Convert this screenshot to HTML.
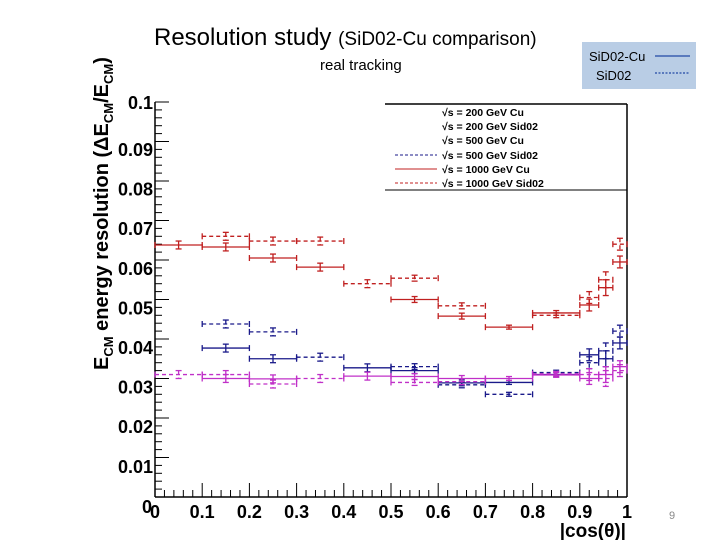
<!DOCTYPE html>
<html><head><meta charset="utf-8"><style>
body{margin:0;background:#fff;width:720px;height:540px;overflow:hidden;font-family:"Liberation Sans",sans-serif}
</style></head><body>
<svg width="720" height="540" xmlns="http://www.w3.org/2000/svg">
<text x="154" y="45" font-size="24" font-family="Liberation Sans, sans-serif">Resolution study <tspan font-size="19">(SiD02-Cu comparison)</tspan></text>
<text x="320" y="70" font-size="15">real tracking</text>
<g>
<rect x="582" y="42" width="114" height="47" fill="#b9cde5"/>
<text x="589" y="61" font-size="13">SiD02-Cu</text>
<line x1="655" y1="56" x2="690" y2="56" stroke="#3a5fb0" stroke-width="1.5"/>
<text x="596" y="80" font-size="13">SiD02</text>
<line x1="655" y1="73" x2="690" y2="73" stroke="#3a5fb0" stroke-width="1.5" stroke-dasharray="2,1.5"/>
</g>
<text x="669" y="519" font-size="11" fill="#888">9</text>
<g id="axes"></g>
<g id="marks"></g>
<g font-size="10.5" font-weight="bold" fill="#000">
<line x1="385" y1="104" x2="627" y2="104" stroke="#000" stroke-width="1.5"/>
<line x1="385" y1="190" x2="627" y2="190" stroke="#000" stroke-width="1"/>
<text x="442" y="116">√s = 200 GeV Cu</text>
<text x="442" y="130">√s = 200 GeV Sid02</text>
<text x="442" y="144">√s = 500 GeV Cu</text>
<line x1="395" y1="155" x2="437" y2="155" stroke="#1a1a8a" stroke-dasharray="3,2"/>
<text x="442" y="159">√s = 500 GeV Sid02</text>
<line x1="395" y1="169" x2="437" y2="169" stroke="#c02020"/>
<text x="442" y="173">√s = 1000 GeV Cu</text>
<line x1="395" y1="183" x2="437" y2="183" stroke="#c02020" stroke-dasharray="3,2"/>
<text x="442" y="187">√s = 1000 GeV Sid02</text>
</g>
</svg>
<script>
const binLo=[0,0.1,0.2,0.3,0.4,0.5,0.6,0.7,0.8,0.9,0.94,0.97];
const binHi=[0.1,0.2,0.3,0.4,0.5,0.6,0.7,0.8,0.9,0.94,0.97,1];
const cu1000=[0.0638,0.0633,0.0605,0.0582,null,0.0500,0.0458,0.0430,0.0466,0.0486,0.0530,0.0595];
const sid1000=[null,0.0660,0.0648,0.0648,0.0540,0.0554,0.0484,null,0.0460,0.0505,0.0550,0.0640];
const cu500=[null,0.0377,0.0350,null,0.0327,0.0320,0.0289,0.0290,0.0310,0.0360,0.0350,0.0390];
const sid500=[null,0.0438,0.0418,0.0354,null,0.0330,0.0284,0.0260,0.0315,0.0340,0.0370,0.0420];
const cu200=[null,0.0300,0.0299,null,0.0306,0.0305,0.0300,0.0300,0.0309,0.0300,0.0310,0.0330];
const sid200=[0.0310,0.0310,0.0286,0.0300,null,0.0290,0.0292,null,0.0312,0.0310,0.0300,0.0320];
const errs=[0.002,0.002,0.002,0.002,0.002,0.0015,0.0015,0.001,0.0012,0.003,0.004,0.003];
const yTicks=[0,0.01,0.02,0.03,0.04,0.05,0.06,0.07,0.08,0.09,0.1];
const xTicks=[0,0.1,0.2,0.3,0.4,0.5,0.6,0.7,0.8,0.9,1];
const X=v=>155+v*472, Y=v=>497-v*3950;
const NS='http://www.w3.org/2000/svg';
function mk(t,a,p){const e=document.createElementNS(NS,t);for(const k in a)e.setAttribute(k,a[k]);p.appendChild(e);return e;}
const ax=document.getElementById('axes'), mg=document.getElementById('marks');
let e=mk('line',{x1:X(0),y1:Y(0),x2:X(1),y2:Y(0),stroke:'#000','stroke-width':1.5},ax);

e=mk('line',{x1:X(0),y1:Y(0),x2:X(0),y2:Y(0.1),stroke:'#000','stroke-width':1.5},ax);

mk('line',{x1:X(1),y1:Y(0),x2:X(1),y2:104,stroke:'#000','stroke-width':1.5},ax);
for(let i=0;i<=50;i++){const v=i/50;const big=i%5==0;mk('line',{x1:X(v),y1:Y(0),x2:X(v),y2:Y(0)-(big?14:7),stroke:'#000'},ax);}
for(let i=0;i<=50;i++){const v=i/500;const big=i%5==0;mk('line',{x1:X(0),y1:Y(v),x2:X(0)+(big?14:7),y2:Y(v),stroke:'#000'},ax);}
xTicks.forEach(v=>{const t=mk('text',{x:X(v),y:518,'text-anchor':'middle','font-size':18,'font-weight':'bold'},ax);t.textContent=String(v);
});
const LY=v=>v==0.1?109:(v==0?513:156+(0.09-v)*3960);
yTicks.forEach(v=>{const t=mk('text',{x:v==0?152:153,y:LY(v),'text-anchor':'end','font-size':18,'font-weight':'bold'},ax);t.textContent=String(v);
});
let t=mk('text',{x:626,y:537,'text-anchor':'end','font-size':19,'font-weight':'bold'},ax);t.textContent='|cos(θ)|';

t=mk('text',{transform:'translate(108,370) rotate(-90)','font-size':20,'font-weight':'bold'},ax);
t.innerHTML='E<tspan font-size="13" dy="5">CM</tspan><tspan dy="-5"> energy resolution (ΔE</tspan><tspan font-size="13" dy="5">CM</tspan><tspan dy="-5">/E</tspan><tspan font-size="13" dy="5">CM</tspan><tspan dy="-5">)</tspan>';

function series(vals,color,dash,name){
 const g=mk('g',{stroke:color,'stroke-width':1.3,fill:'none'},mg);
 
 
 vals.forEach((v,i)=>{if(v==null)return;const y=Y(v),cx=X((binLo[i]+binHi[i])/2),er=errs[i]*3950/2;
  const a={x1:X(binLo[i]),y1:y,x2:X(binHi[i]),y2:y};if(dash)a['stroke-dasharray']='4,3';mk('line',a,g);
  mk('line',{x1:X(binLo[i]),y1:y-3,x2:X(binLo[i]),y2:y+3},g);mk('line',{x1:X(binHi[i]),y1:y-3,x2:X(binHi[i]),y2:y+3},g);
  const b={x1:cx,y1:y-er,x2:cx,y2:y+er};if(dash)b['stroke-dasharray']='4,3';mk('line',b,g);
  mk('line',{x1:cx-3,y1:y-er,x2:cx+3,y2:y-er},g);mk('line',{x1:cx-3,y1:y+er,x2:cx+3,y2:y+er},g);});
}
series(cu1000,'#c02020',false,'series-1000-cu');
series(sid1000,'#c02020',true,'series-1000-sid02');
series(cu500,'#1a1a8a',false,'series-500-cu');
series(sid500,'#1a1a8a',true,'series-500-sid02');
series(cu200,'#c030c8',false,'series-200-cu');
series(sid200,'#c030c8',true,'series-200-sid02');
</script>
</body></html>
